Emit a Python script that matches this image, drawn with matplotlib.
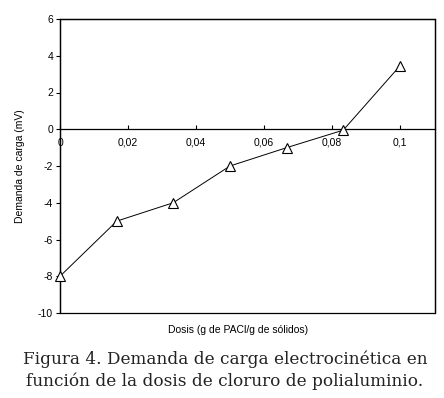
import matplotlib.pyplot as plt
from matplotlib.ticker import FuncFormatter

dosis = [0, 0.0167, 0.0333, 0.05, 0.0667, 0.0833, 0.1]
demanda = [-8, -5, -4, -2, -1, -0.05, 3.45]
x_ticks = [0, 0.02, 0.04, 0.06, 0.08, 0.1]
y_ticks = [-10, -8, -6, -4, -2, 0, 2, 4, 6]

plt.rcParams["font.family"] = ["Liberation Sans", "DejaVu Sans"]

fig = plt.figure(figsize=(4.44, 3.98), dpi=100)
ax = fig.add_axes([60 / 444, 1 - 313 / 398, 375 / 444, 294 / 398])

ax.plot(dosis, demanda, color="black", linewidth=0.7, marker="^",
        markersize=7.5, markerfacecolor="white", markeredgecolor="black",
        markeredgewidth=0.8, clip_on=False, zorder=3)

ax.set_xlim(0, 0.1103)
ax.set_ylim(-10, 6)
ax.set_xticks(x_ticks)
ax.set_yticks(y_ticks)
comma = FuncFormatter(lambda v, p: f"{v:g}".replace(".", ","))
ax.xaxis.set_major_formatter(comma)
ax.yaxis.set_major_formatter(comma)

ax.spines["bottom"].set_position(("data", 0))
for s in ax.spines.values():
    s.set_linewidth(0.9)
ax.patch.set_edgecolor("black")
ax.patch.set_linewidth(0.9)

ax.tick_params(axis="x", direction="in", length=3, width=0.8, labelsize=7.5, pad=6)
ax.tick_params(axis="y", direction="out", length=3, width=0.8, labelsize=7.5, pad=2)

ax.set_ylabel("Demanda de carga (mV)", fontsize=7.5, labelpad=9)
fig.text(238 / 444, 1 - 330 / 398, "Dosis (g de PACl/g de sólidos)",
         fontsize=7.5, ha="center", va="center")

fig.text(225 / 444, 1 - 370 / 398,
         "Figura 4. Demanda de carga electrocinética en\n"
         "función de la dosis de cloruro de polialuminio.",
         family="DejaVu Serif", fontsize=12.2, ha="center", va="center",
         linespacing=1.35, color="#222222")

fig.savefig("out.png", dpi=100)
